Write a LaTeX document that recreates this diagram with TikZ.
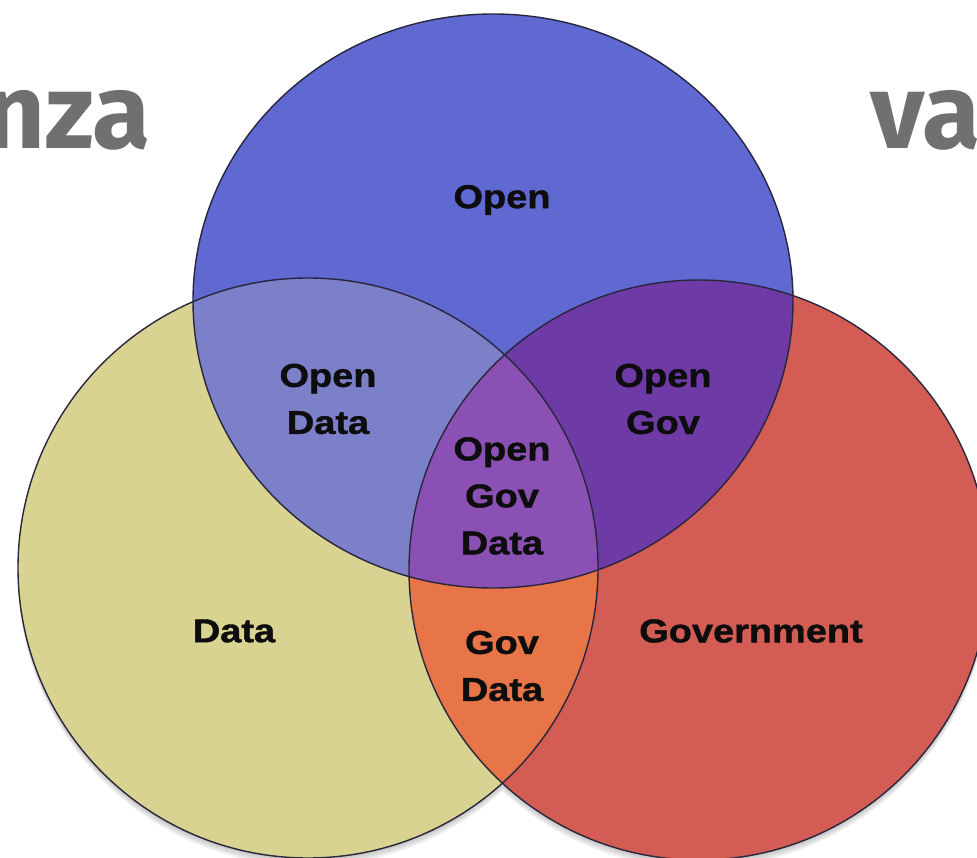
\documentclass[tikz,border=0pt]{standalone}
\usepackage{fontspec}
\newfontfamily\lblfont[FakeStretch=1.15, FakeBold=1.2]{Liberation Sans}
\newfontfamily\headfont{Fira Sans}
\definecolor{opencol}{RGB}{96,104,210}
\definecolor{datacol}{RGB}{217,211,145}
\definecolor{govcol}{RGB}{211,93,85}
\definecolor{opendatacol}{RGB}{124,128,200}
\definecolor{opengovcol}{RGB}{110,58,165}
\definecolor{govdatacol}{RGB}{232,117,72}
\definecolor{allcol}{RGB}{138,80,180}
\definecolor{rimcol}{RGB}{40,38,60}
\definecolor{headcol}{RGB}{112,112,112}
\tikzset{
  lbl/.style={font=\lblfont\bfseries\fontsize{33}{47}\selectfont, align=center, text=black!95, inner sep=0pt},
  head/.style={font=\headfont\bfseries\fontsize{106}{106}\selectfont, text=headcol, inner sep=0pt},
  rim/.style={draw=rimcol, line width=1.4pt}
}
\def\opensetpath{(493,301) ellipse [x radius=300, y radius=287]}
\def\datasetpath{(308,568) circle (290)}
\def\govsetpath{(699,570) circle (290)}
\begin{document}
\begin{tikzpicture}[x=1pt, y=-1pt]
\useasboundingbox (0,0) rectangle (977,858);
\clip (0,0) rectangle (977,858);
% soft shadows
\foreach \s in {2,4,6,8}
  \fill[black, opacity=0.06, yshift=-\s pt] \datasetpath \govsetpath \opensetpath;
% the three sets
\fill[datacol] \datasetpath;
\fill[govcol] \govsetpath;
\begin{scope}
  \clip \datasetpath;
  \fill[govdatacol] \govsetpath;
\end{scope}
\fill[opencol] \opensetpath;
\begin{scope}
  \clip \opensetpath;
  \fill[opendatacol] \datasetpath;
  \fill[opengovcol] \govsetpath;
  \clip \datasetpath;
  \fill[allcol] \govsetpath;
\end{scope}
\draw[rim] \datasetpath;
\draw[rim] \govsetpath;
\draw[rim] \opensetpath;
% labels
\node[lbl] (open) at (502,200) {Open};
\node[lbl] (opendata) at (328,399) {Open\\Data};
\node[lbl] (opengov) at (663,399) {Open\\Gov};
\node[lbl] (opengovdata) at (502,496) {Open\\Gov\\Data};
\node[lbl] (data) at (234,631) {Data};
\node[lbl] (govt) at (751,631) {Government};
\node[lbl] (govdata) at (502,666) {Gov\\Data};
% cut-off title words
\node[head, anchor=base east] (nza) at (151,149) {nza};
\node[head, anchor=base west] (va) at (870,149) {va};
\end{tikzpicture}
\end{document}
